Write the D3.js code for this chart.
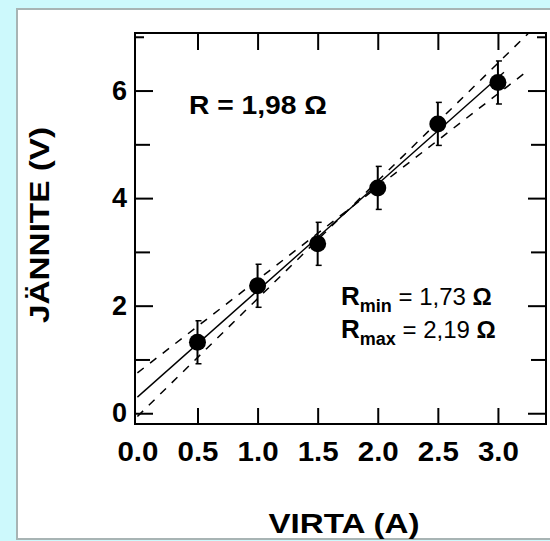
<!DOCTYPE html>
<html>
<head>
<meta charset="utf-8">
<script src="https://cdn.jsdelivr.net/npm/d3@7"></script>
<style>
  html, body { margin: 0; padding: 0; background: #cdf9fc; }
  svg { display: block; }
  text { font-family: "Liberation Sans", Arial, Helvetica, sans-serif; }
</style>
</head>
<body>
<svg id="chart" width="550" height="541"></svg>
<script>
// ---- data ----
const current = [0.5, 1.0, 1.5, 2.0, 2.5, 3.0];          // VIRTA (A)
const voltage = [1.32, 2.37, 3.15, 4.19, 5.38, 6.15];    // JÄNNITE (V)
const voltageErr = [0.4, 0.4, 0.4, 0.4, 0.4, 0.4];
const fitNames = ["R", "Rmin", "Rmax"];
const fitSlopes = [1.98, 1.73, 2.19];
const fitIntercepts = [0.30, 0.75, -0.06];
const fitXEnd = [3.05, 3.25, 3.25];
const xTickValues = [0.0, 0.5, 1.0, 1.5, 2.0, 2.5, 3.0];
const yMajorTicks = [0, 2, 4, 6];
const yMinorTicks = [1, 3, 5];
const yTopTick = [7];

// ---- layout ----
const svg = d3.select("#chart");
const L = 135, R = 546, T = 33, B = 424;

svg.append("rect").attr("x", 17).attr("y", 9).attr("width", 545).attr("height", 530)
  .attr("fill", "#ffffff").attr("stroke", "#a8b4b4").attr("stroke-width", 2);

const x = d3.scaleLinear().domain([-0.02, 3.4]).range([L, R]);
const y = d3.scaleLinear().domain([-0.2, 7.07]).range([B, T]);

function styleAxis(g) {
  g.select(".domain").remove();
  g.selectAll(".tick line").attr("stroke", "#000").attr("stroke-width", 2);
  g.selectAll("text").attr("font-size", 27).attr("font-weight", "bold").attr("fill", "#000");
}

// bottom axis (inward ticks)
const gx = svg.append("g").attr("transform", `translate(0,${B})`)
  .call(d3.axisBottom(x).tickValues(xTickValues).tickSize(-16).tickPadding(18)
    .tickFormat(d3.format(".1f")));
styleAxis(gx);
gx.selectAll(".tick text").attr("textLength", 41).attr("lengthAdjust", "spacingAndGlyphs");
gx.selectAll(".tick").filter(d => d === 0).select("line").remove();

// top axis
const gxt = svg.append("g").attr("transform", `translate(0,${T})`)
  .call(d3.axisTop(x).tickValues(xTickValues.filter(d => d > 0)).tickSize(-17).tickFormat(""));
styleAxis(gxt);

// left axis
const gy = svg.append("g").attr("transform", `translate(${L},0)`)
  .call(d3.axisLeft(y).tickValues(yMajorTicks).tickSize(-18).tickPadding(8).tickFormat(d3.format("d")));
styleAxis(gy);
const gym = svg.append("g").attr("transform", `translate(${L},0)`)
  .call(d3.axisLeft(y).tickValues(yMinorTicks).tickSize(-15).tickFormat(""));
styleAxis(gym);
const gyt = svg.append("g").attr("transform", `translate(${L},0)`)
  .call(d3.axisLeft(y).tickValues(yTopTick).tickSize(-9).tickFormat(""));
styleAxis(gyt);

// right axis
const gr = svg.append("g").attr("transform", `translate(${R},0)`)
  .call(d3.axisRight(y).tickValues(yMajorTicks).tickSize(-18).tickFormat(""));
styleAxis(gr);
const grm = svg.append("g").attr("transform", `translate(${R},0)`)
  .call(d3.axisRight(y).tickValues(yMinorTicks).tickSize(-15).tickFormat(""));
styleAxis(grm);
const grt = svg.append("g").attr("transform", `translate(${R},0)`)
  .call(d3.axisRight(y).tickValues(yTopTick).tickSize(-9).tickFormat(""));
styleAxis(grt);

// frame
svg.append("rect").attr("x", L).attr("y", T).attr("width", R - L).attr("height", B - T)
  .attr("fill", "none").attr("stroke", "#000").attr("stroke-width", 2);

// fit lines
const line = d3.line().x(d => x(d[0])).y(d => y(d[1]));
fitNames.forEach((n, i) => {
  const pts = [[0, fitIntercepts[i]], [fitXEnd[i], fitIntercepts[i] + fitSlopes[i] * fitXEnd[i]]];
  svg.append("path").attr("d", line(pts)).attr("fill", "none").attr("stroke", "#000")
    .attr("stroke-width", i === 0 ? 1.4 : 1.5)
    .attr("stroke-dasharray", i === 0 ? null : "8,8");
});

// error bars
const eb = svg.append("g");
current.forEach((c, i) => {
  const lo = voltage[i] - voltageErr[i], hi = voltage[i] + voltageErr[i];
  eb.append("line").attr("x1", x(c)).attr("x2", x(c)).attr("y1", y(lo)).attr("y2", y(hi))
    .attr("stroke", "#000").attr("stroke-width", 2);
  [lo, hi].forEach(v => {
    eb.append("line").attr("x1", x(c) - 2).attr("x2", x(c) + 4).attr("y1", y(v)).attr("y2", y(v))
      .attr("stroke", "#000").attr("stroke-width", 1.5);
  });
});

// points
svg.append("g").selectAll("circle").data(current).join("circle")
  .attr("cx", d => x(d)).attr("cy", (d, i) => y(voltage[i])).attr("r", 8.5).attr("fill", "#000");

// annotations
svg.append("text").attr("x", 189).attr("y", 114).attr("font-size", 25).attr("font-weight", "bold")
  .attr("textLength", 138).attr("lengthAdjust", "spacingAndGlyphs")
  .text("R = 1,98 Ω");

function rText(yb, sub, val) {
  const t = svg.append("text").attr("x", 341).attr("y", yb).attr("fill", "#000");
  t.append("tspan").attr("font-size", 26).attr("font-weight", "bold").text("R");
  t.append("tspan").attr("font-size", 18).attr("font-weight", "bold").attr("dy", 7).text(sub);
  t.append("tspan").attr("font-size", 24).attr("dy", -7).text(" = " + val + " ");
  t.append("tspan").attr("font-size", 24).attr("font-weight", "bold").text("Ω");
}
rText(305, "min", "1,73");
rText(338, "max", "2,19");

// axis titles
svg.append("text").attr("x", 344).attr("y", 533).attr("text-anchor", "middle")
  .attr("font-size", 28).attr("font-weight", "bold")
  .attr("textLength", 151).attr("lengthAdjust", "spacingAndGlyphs").text("VIRTA (A)");
svg.append("text").attr("transform", "translate(49,225) rotate(-90)").attr("text-anchor", "middle")
  .attr("font-size", 28).attr("font-weight", "bold")
  .attr("textLength", 196).attr("lengthAdjust", "spacingAndGlyphs").text("JÄNNITE (V)");
</script>
</body>
</html>
